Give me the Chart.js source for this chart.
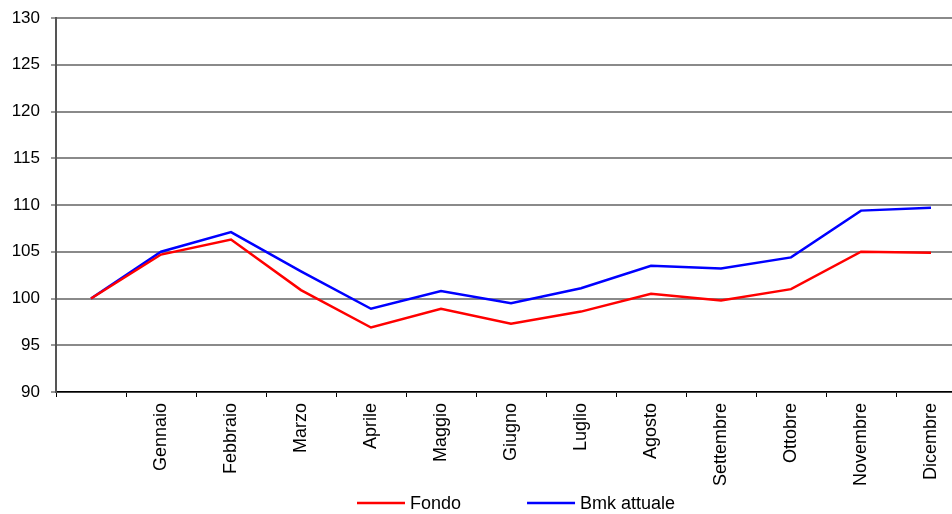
<!DOCTYPE html>
<html>
<head>
<meta charset="utf-8">
<script src="https://cdn.jsdelivr.net/npm/chart.js@4/dist/chart.umd.min.js"></script>
<style>
  html, body { margin: 0; padding: 0; background: #fff; }
  #wrap { width: 952px; height: 514px; overflow: hidden; position: relative; }
  #c { display: block; }
</style>
</head>
<body>
<div id="wrap"><canvas id="c" width="970" height="514"></canvas></div>
<script>
// Monthly index values (start = 100)
const months = ['', 'Gennaio', 'Febbraio', 'Marzo', 'Aprile', 'Maggio', 'Giugno',
  'Luglio', 'Agosto', 'Settembre', 'Ottobre', 'Novembre', 'Dicembre'];
const fondo = [100, 104.7, 106.3, 100.9, 96.9, 98.9, 97.3, 98.6, 100.5, 99.8, 101.0, 105.0, 104.9];
const bmk = [100, 105.0, 107.1, 102.9, 98.9, 100.8, 99.5, 101.1, 103.5, 103.2, 104.4, 109.4, 109.7];
const seriesNames = ['Fondo', 'Bmk attuale'];

const FONT = "'Liberation Sans', Arial, sans-serif";

// Legend drawn under the axis: short line sample followed by the series name
const lineLegend = {
  id: 'lineLegend',
  afterDraw(chart) {
    const ctx = chart.ctx;
    ctx.save();
    ctx.font = '18px ' + FONT;
    ctx.textBaseline = 'middle';
    const y = 503;
    let x = 357;
    chart.data.datasets.forEach(ds => {
      ctx.strokeStyle = ds.borderColor;
      ctx.lineWidth = 2.5;
      ctx.beginPath();
      ctx.moveTo(x, y);
      ctx.lineTo(x + 48, y);
      ctx.stroke();
      ctx.fillStyle = '#000';
      ctx.fillText(ds.label, x + 53, y + 1);
      x += 53 + ctx.measureText(ds.label).width + 66;
    });
    ctx.restore();
  }
};

new Chart(document.getElementById('c'), {
  type: 'line',
  data: {
    labels: months,
    datasets: [
      { label: seriesNames[0], data: fondo, borderColor: '#ff0000', borderWidth: 2.5,
        pointRadius: 0, tension: 0, fill: false },
      { label: seriesNames[1], data: bmk, borderColor: '#0000ff', borderWidth: 2.5,
        pointRadius: 0, tension: 0, fill: false }
    ]
  },
  options: {
    responsive: false,
    animation: false,
    events: [],
    layout: { padding: { top: 18, right: 4, bottom: 0, left: 0 } },
    plugins: { legend: { display: false }, tooltip: { enabled: false } },
    scales: {
      x: {
        type: 'category',
        offset: true,
        afterFit(scale) { scale.height = 122; scale.paddingLeft = 0; scale.paddingRight = 0; },
        border: { display: true, color: '#000', width: 1.5 },
        grid: { offset: true, drawOnChartArea: false, drawTicks: true, tickLength: 5,
          color: '#000', lineWidth: 1 },
        ticks: {
          autoSkip: false, minRotation: 90, maxRotation: 90, padding: 6,
          color: '#000', font: { family: FONT, size: 18 }
        }
      },
      y: {
        min: 90, max: 130,
        afterFit(scale) { scale.width = 56; scale.paddingTop = 0; scale.paddingBottom = 0; },
        border: { display: true, color: '#555', width: 2 },
        grid: { color: '#8a8a8a', lineWidth: 2, drawTicks: true, tickLength: 5, tickColor: '#333', tickWidth: 1 },
        ticks: {
          stepSize: 5, padding: 11, color: '#000',
          font: { family: FONT, size: 17 }
        }
      }
    }
  },
  plugins: [lineLegend]
});
</script>
</body>
</html>
